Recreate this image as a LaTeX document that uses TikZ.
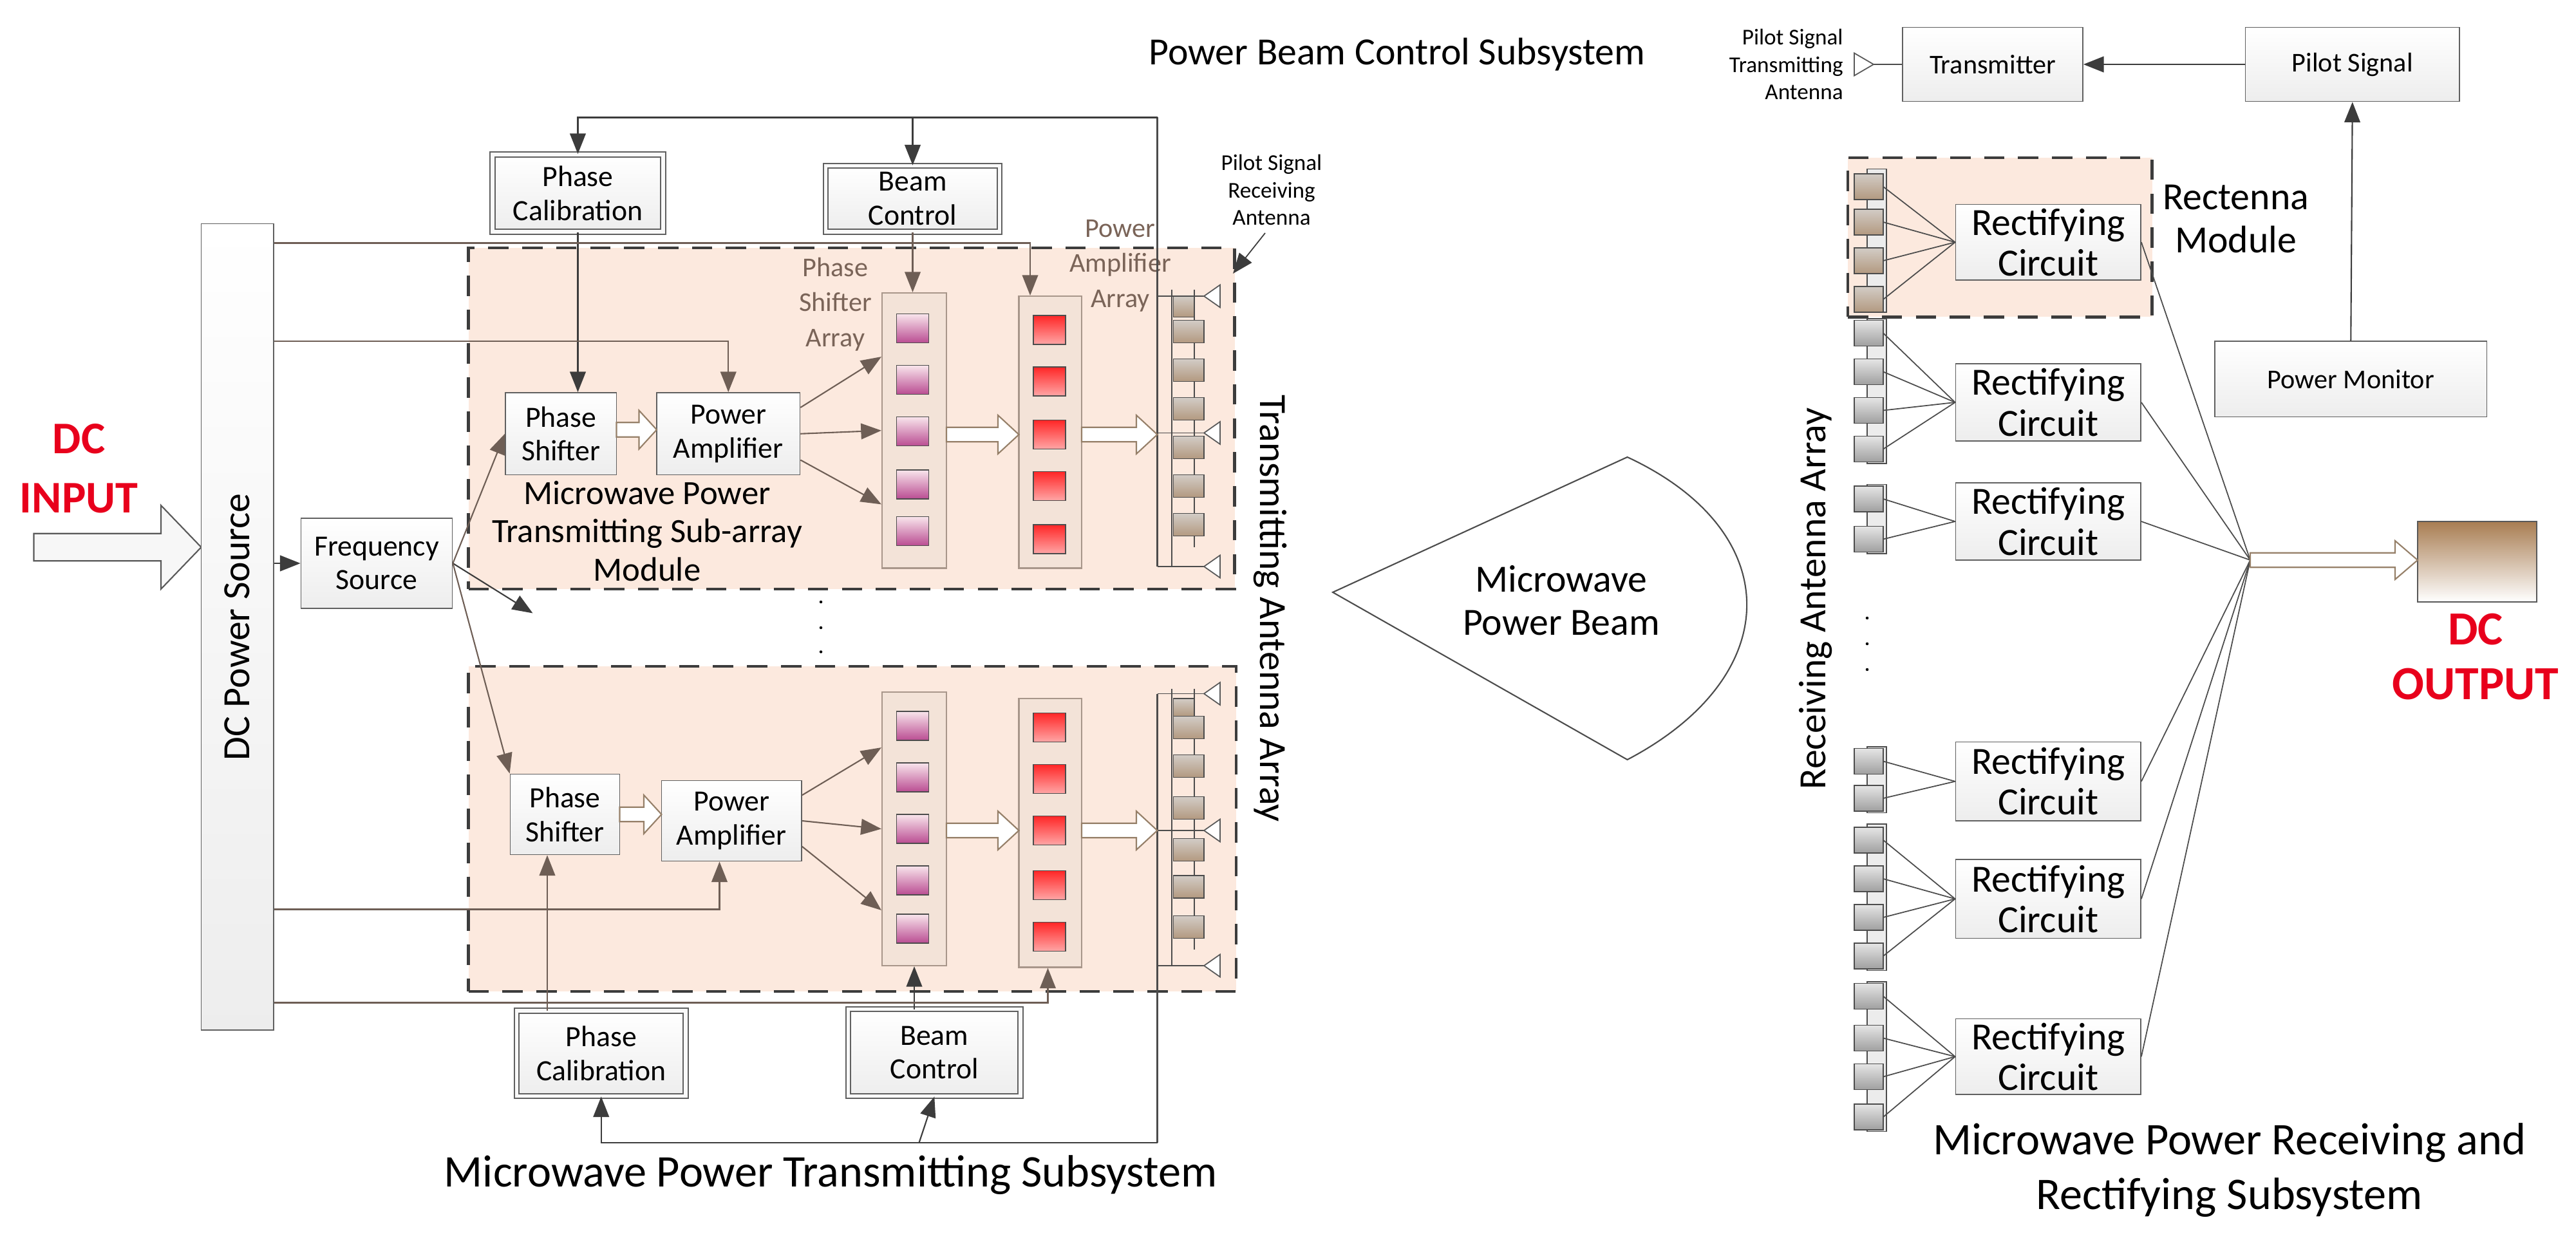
\documentclass[tikz,border=0pt]{standalone}
\usepackage{fontspec}
\setmainfont{Carlito}
\usetikzlibrary{arrows.meta,calc}
\definecolor{peach}{HTML}{FCE9DE}
\definecolor{colfill}{HTML}{F3E3D8}
\definecolor{colline}{HTML}{A8968A}
\definecolor{brn}{HTML}{6E5E55}
\definecolor{dk}{HTML}{3C3C3C}
\definecolor{lbl}{HTML}{7A6458}
\definecolor{redt}{HTML}{E8001C}
\newcommand\bx[7][]{\node[#1, minimum width={(#4-(#2))*0.025cm}, minimum height={(#5-(#3))*0.025cm}, inner sep=0pt] (#7) at ({(#2+#4)/2},{(#3+#5)/2}) {#6};}
% hollow arrow: x1, x2, y, shaft half, head half, head length
\newcommand\harr[7][]{\draw[hol,#1] (#2,#4-#5) -- (#3-#7,#4-#5) -- (#3-#7,#4-#6) -- (#3,#4) -- (#3-#7,#4+#6) -- (#3-#7,#4+#5) -- (#2,#4+#5) -- cycle;}
\tikzset{
 box/.style={draw=gray!75!black, line width=0.5pt, top color=white, bottom color=gray!14, align=center, font=\fontsize{13}{15}\selectfont},
 dbox/.style={box, double=gray!5, double distance=1.6pt},
 rc/.style={box, font=\fontsize{17}{18}\selectfont},
 col/.style={draw=colline, fill=colfill, line width=0.6pt},
 psq/.style={draw=gray!60!black, top color=purple!10, bottom color=violet!55!purple!70, line width=0.4pt},
 rsq/.style={draw=gray!60!black, top color=red!85, bottom color=red!35, line width=0.4pt},
 patch/.style={draw=gray!60!black, top color=brown!25!gray!40, bottom color=brown!50!gray!80, line width=0.4pt},
 gpatch/.style={draw=gray!60!black, top color=gray!20, bottom color=gray!75, line width=0.4pt},
 module/.style={draw=dk, dash pattern=on 9pt off 6pt, line width=1.3pt, fill=peach},
 darr/.style={draw=dk, line width=0.6pt, -{Triangle[length=9pt,width=7pt]}},
 barr/.style={draw=brn, line width=0.6pt, -{Triangle[length=9pt,width=7pt]}},
 ln/.style={draw=dk, line width=0.6pt},
 hol/.style={draw=gray!65!brown, fill=white, line width=0.6pt, line join=miter},
 ant/.style={draw=gray!70!black, fill=white, line width=0.5pt},
}
\begin{document}
\begin{tikzpicture}[x=0.025cm,y=-0.025cm]
\useasboundingbox (0,0) rectangle (1600.4,769.2);
% ---------- DC input
\node[font=\bfseries\fontsize{20}{26}\selectfont, text=redt, align=center] (dcin) at (49,291) {DC\\INPUT};
\harr[draw=gray!70!black, fill=gray!6]{21}{125}{340}{8.5}{26}{25}
% ---------- DC power source
\bx[box]{125}{139}{170}{640}{}{dc}
\node[rotate=90, font=\fontsize{17}{19}\selectfont] at (dc) {DC Power Source};
\bx[box]{187}{322}{281}{378}{Frequency\\Source}{fs}
\draw[darr] (dc.east |- fs.west) -- (fs.west);
% ---------- modules
\bx[module]{291}{154}{767}{366}{}{m1}
\bx[module]{291}{414}{768}{616}{}{m2}
% top module content
\bx[box]{314}{244}{383}{295}{Phase\\Shifter}{ps1}
\bx[box]{408}{244}{497}{295}{Power\\Amplifier}{pa1}
\bx[col]{548}{182}{588}{353}{}{sc1}
\bx[col]{633}{184}{672}{353}{}{pc1col}
\foreach \y in {204,236,268,301,330}{\bx[psq]{557}{\y-9}{577}{\y+9}{}{p1\y}}
\foreach \y in {205,237,270,302,335}{\bx[rsq]{642}{\y-9}{662}{\y+9}{}{r1\y}}
\node[align=center, font=\fontsize{15}{17}\selectfont] at (402,330) {Microwave Power\\Transmitting Sub-array\\Module};
\node[align=center, text=lbl, font=\fontsize{12}{15.5}\selectfont] at (519,189) {Phase\\Shifter\\Array};
\node[align=center, text=lbl, font=\fontsize{12}{15.5}\selectfont] at (696,165) {Power\\Amplifier\\Array};
% bottom module content
\bx[box]{317}{481}{385}{531}{Phase\\Shifter}{ps2}
\bx[box]{411}{485}{498}{535}{Power\\Amplifier}{pa2}
\bx[col]{548}{430}{588}{600}{}{sc2}
\bx[col]{633}{434}{672}{601}{}{pc2col}
\foreach \y in {451,483,515,547,577}{\bx[psq]{557}{\y-9}{577}{\y+9}{}{p2\y}}
\foreach \y in {452,484,516,550,582}{\bx[rsq]{642}{\y-9}{662}{\y+9}{}{r2\y}}
% ---------- transmitting antennas
\coordinate (ttop) at (719,73);
\coordinate (tbot) at (719,710);
\draw[ln, draw=gray!60!black] (719,184) -- (ttop);
\draw[ln, draw=gray!60!black] (719,184) -- (719,352);
\draw[ln, draw=gray!60!black] (719,431) -- (tbot);
\foreach \y in {184,269,352,431,516,600}{
  \draw[gray!60!black, line width=0.5pt] (719,\y) -- (748,\y);
  \draw[ant] (748,\y) -- (758,\y-7) -- (758,\y+7) -- cycle;}
\draw[gray!60!black, line width=0.5pt] (728,180) -- (728,352) (742,180) -- (742,340);
\draw[gray!60!black, line width=0.5pt] (728,428) -- (728,600) (742,428) -- (742,590);
\bx[patch]{729}{184}{742}{197}{}{tp0}
\foreach \y in {206,230,254,278,302,326}{\bx[patch]{729}{\y-7}{748}{\y+7}{}{tpa\y}}
\bx[patch]{729}{434}{742}{445}{}{tp1}
\foreach \y in {452,476,502,528,551,576}{\bx[patch]{729}{\y-7}{748}{\y+7}{}{tpb\y}}
\node[rotate=-90, font=\fontsize{17}{19}\selectfont] (taa) at (789,378) {Transmitting Antenna Array};
\node[align=center, font=\fontsize{10}{12}\selectfont] (psra) at (790,118) {Pilot Signal\\Receiving\\Antenna};
\coordinate (psrat) at (766,170);
\draw[darr, line width=0.5pt] (psra.south) ++(-4,0) -- (psrat);
% ---------- control boxes top
\bx[dbox]{306}{96}{412}{144}{Phase\\Calibration}{pcal1}
\bx[dbox]{513}{103}{621}{144}{Beam\\Control}{bc1}
\coordinate (j1) at (567,73);
\draw[darr] (ttop) -| (pcal1.north);
\draw[darr] (j1) -- (bc1.north);
\draw[darr] (pcal1.south) -- (pcal1.south |- ps1.north);
\draw[barr] (bc1.south) -- (bc1.south |- sc1.north);
\coordinate (l1) at (640,151);
\draw[barr] (dc.east |- l1) -- (l1) -- (l1 |- pc1col.north);
\coordinate (l2) at (452,212);
\draw[barr] (dc.east |- l2) -| (pa1.north);
% freq source fan
\coordinate (stub) at (331,381);
\draw[barr] (fs.east) -- (ps1.west);
\draw[darr] (fs.east) -- (stub);
\draw[barr] (fs.east) -- (ps2.north west);
\foreach \y in {374,390,405}{\fill (510,\y) circle (0.9);}
% top module internal arrows
\harr{383}{408}{267}{4.5}{12}{11}
\draw[barr] (pa1.20) -- (sc1.114);
\draw[barr] (pa1.east) -- (sc1.west);
\draw[barr] (pa1.-20) -- (sc1.246);
\harr{588}{633}{270}{4.5}{12}{13}
\harr{672}{719}{270}{4.5}{12}{13}
% bottom module internal arrows
\harr{385}{411}{506}{4.5}{12}{11}
\draw[barr] (pa2.20) -- (sc2.112);
\draw[barr] (pa2.east) -- (sc2.west);
\draw[barr] (pa2.-20) -- (sc2.248);
\harr{588}{633}{516}{4.5}{12}{13}
\harr{672}{719}{516}{4.5}{12}{13}
% ---------- control boxes bottom
\bx[dbox]{321}{628}{426}{681}{Phase\\Calibration}{pcal2}
\bx[dbox]{527}{627}{634}{681}{Beam\\Control}{bc2}
\coordinate (v1) at (340,628);
\draw[barr] (v1) -- (v1 |- ps2.south);
\coordinate (v2) at (568,627);
\draw[darr] (v2) -- (v2 |- sc2.south);
\coordinate (l3) at (447,565);
\draw[barr] (dc.east |- l3) -| (pa2.south -| l3);
\coordinate (l4) at (651,623);
\draw[barr] (dc.east |- l4) -- (l4) -- (l4 |- pc2col.south);
\coordinate (j2) at (571,710);
\draw[darr] (tbot) -| (pcal2.south);
\draw[darr] (j2) -- (bc2.south);
\node[font=\fontsize{20}{22}\selectfont] at (516,730) {Microwave Power Transmitting Subsystem};
% ---------- beam
\draw[gray!60!black, line width=0.6pt] (828,368) -- (1011,284) .. controls (1110,330) and (1110,420) .. (1011,472) -- cycle;
\node[align=center, font=\fontsize{17}{19}\selectfont] (beam) at (970,373) {Microwave\\Power Beam};
% ---------- power beam control subsystem
\node[font=\fontsize{17}{19}\selectfont] at (868,34) {Power Beam Control Subsystem};
\node[align=right, font=\fontsize{10}{12}\selectfont, anchor=east] (psta) at (1150,40) {Pilot Signal\\Transmitting\\Antenna};
\bx[box, font=\fontsize{12}{14}\selectfont]{1182}{17}{1294}{63}{Transmitter}{tx}
\bx[box, font=\fontsize{12}{14}\selectfont]{1395}{17}{1528}{63}{Pilot Signal}{pilot}
\bx[box, font=\fontsize{12}{14}\selectfont]{1376}{212}{1545}{259}{Power Monitor}{pm}
\draw[darr] (pilot.west) -- (tx.east);
\draw[darr] (pm.north) -- (pilot.south);
\draw[ant] (1152,33) -- (1164,40) -- (1152,47) -- cycle;
\coordinate (txa) at (1164,40);
\draw[gray!60!black, line width=0.5pt] (tx.west) -- (txa);
% ---------- receiving side
\bx[module]{1148}{98}{1337}{197}{}{rmod}
\node[align=center, font=\fontsize{17}{19}\selectfont] at (1389,136) {Rectenna\\Module};
\bx[rc]{1215}{127}{1330}{174}{Rectifying\\Circuit}{rc1}
\bx[rc]{1215}{226}{1330}{274}{Rectifying\\Circuit}{rc2}
\bx[rc]{1215}{300}{1330}{348}{Rectifying\\Circuit}{rc3}
\bx[rc]{1215}{461}{1330}{510}{Rectifying\\Circuit}{rc4}
\bx[rc]{1215}{534}{1330}{583}{Rectifying\\Circuit}{rc5}
\bx[rc]{1215}{633}{1330}{680}{Rectifying\\Circuit}{rc6}
\newcommand\grp[5]{%
  \draw[gray!60!black, fill=gray!15, line width=0.4pt] (1160,#1) rectangle (1172,#2);
  \foreach \y in {#3}{\bx[#5]{1152}{\y-8}{1170}{\y+8}{}{g#4\y}\draw[gray!60!black, line width=0.5pt] (1170,\y) -- (#4.west);}}
\grp{105}{194}{116,138,162,186}{rc1}{patch}
\grp{198}{288}{207,231,255,279}{rc2}{gpatch}
\grp{301}{344}{310,335}{rc3}{gpatch}
\grp{464}{505}{473,496}{rc4}{gpatch}
\grp{512}{603}{522,546,570,594}{rc5}{gpatch}
\grp{610}{703}{619,645,669,694}{rc6}{gpatch}
\foreach \y in {384,400,416}{\fill (1160,\y) circle (0.9);}
\node[rotate=90, font=\fontsize{17}{19}\selectfont] at (1128,372) {Receiving Antenna Array};
\coordinate (cv) at (1398,348);
\foreach \r in {rc1,rc2,rc3,rc4,rc5,rc6}{\draw[gray!60!black, line width=0.5pt] (\r.east) -- (cv);}
\bx[draw=gray!70!black, top color=brown!80!black!85, bottom color=white, line width=0.6pt]{1502}{324}{1576}{374}{}{dcout}
\harr{1398}{1502}{348}{4.5}{12}{14}
\node[font=\bfseries\fontsize{21}{24}\selectfont, text=redt, align=center] at (1538,408) {DC\\OUTPUT};
\node[align=center, font=\fontsize{20}{24}\selectfont] at (1385,727) {Microwave Power Receiving and\\Rectifying Subsystem};
\end{tikzpicture}
\end{document}
